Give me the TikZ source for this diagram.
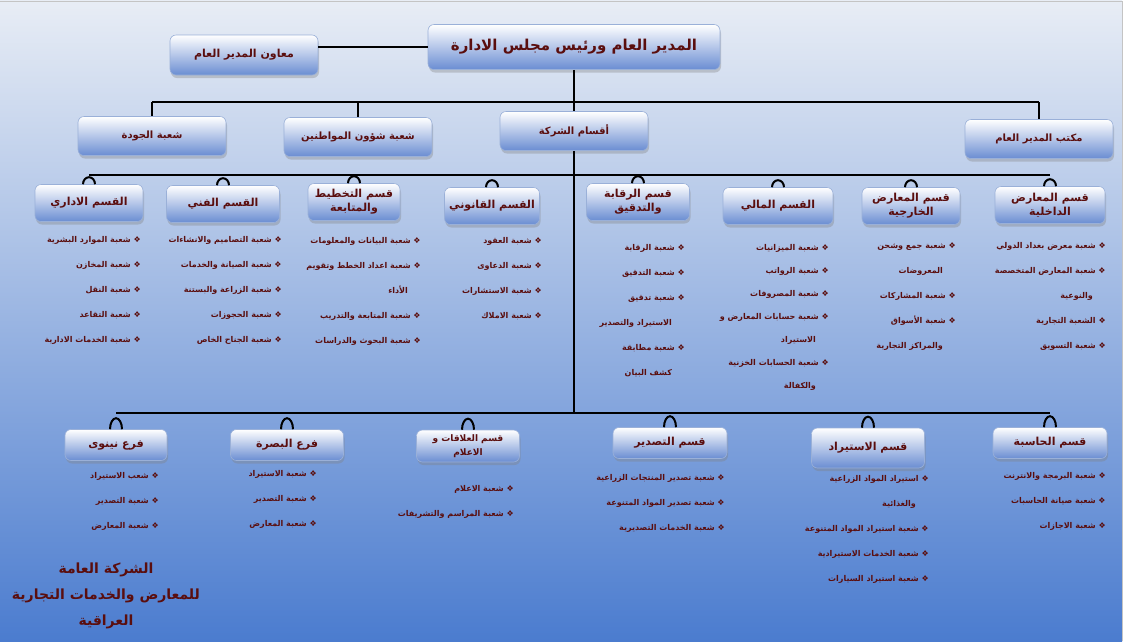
\documentclass[tikz,border=0pt]{standalone}
\usepackage{fontspec}
\usetikzlibrary{shadows}
\TeXXeTstate=1
\newfontfamily\arabicfont[Script=Arabic]{DejaVu Sans}
\definecolor{cink}{HTML}{5A0E0E}
\definecolor{cbox}{HTML}{6A8DD2}
\definecolor{cboxline}{HTML}{9AB0D8}
\definecolor{cbgtop}{HTML}{E8EDF5}
\definecolor{cbgmid}{HTML}{B2C4E5}
\definecolor{cbgbot}{HTML}{4B7CCF}
\definecolor{cframe}{HTML}{C4C4C4}
\newcommand{\artext}[1]{\beginR#1\endR}
\newcommand{\branch}[1]{\beginR❖\ #1\endR}
\newcommand{\wrapline}[1]{\beginR\hspace*{1.6em}#1\endR}
\tikzset{
  every picture/.style={x=1pt, y=-1pt, line width=2.6pt},
  box/.style={draw=cboxline, line width=0.6pt, top color=white, bottom color=cbox, rounded corners=6pt,
    align=center, text=cink, inner sep=2pt, font=\arabicfont\bfseries\fontsize{11}{14}\selectfont,
    drop shadow={opacity=0.35, shadow xshift=1pt, shadow yshift=-3pt}},
  sub/.style={anchor=north east, align=right, inner sep=0pt, text=cink,
    font=\arabicfont\bfseries\fontsize{8}{25}\selectfont},
  hook/.style={line width=2pt},
  title/.style={align=center, text=cink, font=\arabicfont\bfseries\fontsize{14}{26}\selectfont},
}
\begin{document}
\begin{tikzpicture}
  \tikzset{
    headbox/.style={box, minimum width=148pt, minimum height=39pt, font=\arabicfont\bfseries\fontsize{10}{14}\selectfont},
    deptbox/.style={box, minimum width=#1, minimum height=37pt},
    lowbox/.style={box, minimum width=#1, minimum height=31pt},
  }
  \useasboundingbox (0,0) rectangle (1127,641);
  \fill[top color=cbgtop, middle color=cbgmid, bottom color=cbgbot] (0,0) rectangle (1122,641);
  \draw[cframe, line width=1pt] (0,1) -- (1122,1) -- (1122,641);
  % management
  \node[box, minimum width=292pt, minimum height=45pt, font=\arabicfont\bfseries\fontsize{15}{18}\selectfont] (director) at (574,47) {\artext{المدير العام ورئيس مجلس الادارة}};
  \node[box, minimum width=148pt, minimum height=40pt] (deputy) at (244,55) {\artext{معاون المدير العام}};
  \node[headbox] (jawda) at (152,136) {\artext{شعبة الجودة}};
  \node[headbox] (citizens) at (358,137) {\artext{شعبة شؤون المواطنين}};
  \node[headbox] (aqsam) at (574,131) {\artext{أقسام الشركة}};
  \node[headbox] (office) at (1039,139) {\artext{مكتب المدير العام}};
  \coordinate (bus1) at (574,102);
  \coordinate (bus2) at (574,175);
  \coordinate (bus3) at (574,413);
  \draw (director.west) -- (director.west -| deputy.east);
  \draw (director) -- (aqsam);
  \draw (jawda.north |- bus1) -- (office.north |- bus1);
  \draw (jawda.north |- bus1) -- (jawda);
  \draw (citizens.north |- bus1) -- (citizens);
  \draw (office.north |- bus1) -- (office);
  % departments, upper row
  \node[deptbox=108pt] (admin) at (89,203) {\artext{القسم الاداري}};
  \node[deptbox=113pt] (tech) at (223,204) {\artext{القسم الفني}};
  \node[deptbox=92pt] (plan) at (354,202) {\artext{قسم التخطيط}\\\artext{والمتابعة}};
  \node[deptbox=95pt] (legal) at (492,206) {\artext{القسم القانوني}};
  \node[deptbox=103pt] (audit) at (638,202) {\artext{قسم الرقابة}\\\artext{والتدقيق}};
  \node[deptbox=110pt] (fin) at (778,206) {\artext{القسم المالي}};
  \node[deptbox=98pt] (extx) at (911,206) {\artext{قسم المعارض}\\\artext{الخارجية}};
  \node[deptbox=110pt] (intx) at (1050,205) {\artext{قسم المعارض}\\\artext{الداخلية}};
  \draw (aqsam) -- (aqsam |- bus3);
  \draw (admin.north |- bus2) -- (intx.north |- bus2);
  \draw[hook] ([xshift=-6pt]admin.north) arc[start angle=180, end angle=0, x radius=6pt, y radius=7pt]
    ([xshift=-6pt]tech.north) arc[start angle=180, end angle=0, x radius=6pt, y radius=7pt]
    ([xshift=-6pt]plan.north) arc[start angle=180, end angle=0, x radius=6pt, y radius=7pt]
    ([xshift=-6pt]legal.north) arc[start angle=180, end angle=0, x radius=6pt, y radius=7pt]
    ([xshift=-6pt]audit.north) arc[start angle=180, end angle=0, x radius=6pt, y radius=7pt]
    ([xshift=-6pt]fin.north) arc[start angle=180, end angle=0, x radius=6pt, y radius=7pt]
    ([xshift=-6pt]extx.north) arc[start angle=180, end angle=0, x radius=6pt, y radius=7pt]
    ([xshift=-6pt]intx.north) arc[start angle=180, end angle=0, x radius=6pt, y radius=7pt];
  \node[sub] (adminlist) at (142,235) {\branch{شعبة الموارد البشرية}\\\branch{شعبة المخازن}\\\branch{شعبة النقل}\\\branch{شعبة التقاعد}\\\branch{شعبة الخدمات الادارية}};
  \node[sub] (techlist) at (283,235) {\branch{شعبة التصاميم والانشاءات}\\\branch{شعبة الصيانة والخدمات}\\\branch{شعبة الزراعة والبستنة}\\\branch{شعبة الحجوزات}\\\branch{شعبة الجناح الخاص}};
  \node[sub] (planlist) at (422,236) {\branch{شعبة البيانات والمعلومات}\\\branch{شعبة اعداد الخطط وتقويم}\\\wrapline{الأداء}\\\branch{شعبة المتابعة والتدريب}\\\branch{شعبة البحوث والدراسات}};
  \node[sub] (legallist) at (543,236) {\branch{شعبة العقود}\\\branch{شعبة الدعاوى}\\\branch{شعبة الاستشارات}\\\branch{شعبة الاملاك}};
  \node[sub] (auditlist) at (686,243) {\branch{شعبة الرقابة}\\\branch{شعبة التدقيق}\\\branch{شعبة تدقيق}\\\wrapline{الاستيراد والتصدير}\\\branch{شعبة مطابقة}\\\wrapline{كشف البيان}};
  \node[sub, font=\arabicfont\bfseries\fontsize{8}{23}\selectfont] (finlist) at (830,243) {\branch{شعبة الميزانيات}\\\branch{شعبة الرواتب}\\\branch{شعبة المصروفات}\\\branch{شعبة حسابات المعارض و}\\\wrapline{الاستيراد}\\\branch{شعبة الحسابات الخزنية}\\\wrapline{والكفالة}};
  \node[sub] (extxlist) at (957,241) {\branch{شعبة جمع وشحن}\\\wrapline{المعروضات}\\\branch{شعبة المشاركات}\\\branch{شعبة الأسواق}\\\wrapline{والمراكز التجارية}};
  \node[sub] (intxlist) at (1107,241) {\branch{شعبة معرض بغداد الدولي}\\\branch{شعبة المعارض المتخصصة}\\\wrapline{والنوعية}\\\branch{الشعبة التجارية}\\\branch{شعبة التسويق}};
  % branches and departments, lower row
  \node[lowbox=102pt] (ninawa) at (116,445) {\artext{فرع نينوى}};
  \node[lowbox=113pt] (basra) at (287,445) {\artext{فرع البصرة}};
  \node[lowbox=103pt, minimum height=32pt, font=\arabicfont\bfseries\fontsize{9}{14}\selectfont] (media) at (468,446) {\artext{قسم العلاقات و}\\\artext{الاعلام}};
  \node[lowbox=114pt] (export) at (670,443) {\artext{قسم التصدير}};
  \node[lowbox=113pt, minimum height=40pt] (import) at (868,448) {\artext{قسم الاستيراد}};
  \node[lowbox=114pt] (comp) at (1050,443) {\artext{قسم الحاسبة}};
  \draw (ninawa.north |- bus3) -- (comp.north |- bus3);
  \draw[hook] ([xshift=-6pt]ninawa.north) arc[start angle=180, end angle=0, x radius=6pt, y radius=11pt]
    ([xshift=-6pt]basra.north) arc[start angle=180, end angle=0, x radius=6pt, y radius=11pt]
    ([xshift=-6pt]media.north) arc[start angle=180, end angle=0, x radius=6pt, y radius=11pt]
    ([xshift=-6pt]export.north) arc[start angle=180, end angle=0, x radius=6pt, y radius=11pt]
    ([xshift=-6pt]import.north) arc[start angle=180, end angle=0, x radius=6pt, y radius=11pt]
    ([xshift=-6pt]comp.north) arc[start angle=180, end angle=0, x radius=6pt, y radius=11pt];
  \node[sub] (ninawalist) at (160,471) {\branch{شعب الاستيراد}\\\branch{شعبة التصدير}\\\branch{شعبة المعارض}};
  \node[sub] (basralist) at (318,469) {\branch{شعبة الاستيراد}\\\branch{شعبة التصدير}\\\branch{شعبة المعارض}};
  \node[sub] (medialist) at (515,484) {\branch{شعبة الاعلام}\\\branch{شعبة المراسم والتشريفات}};
  \node[sub] (exportlist) at (726,473) {\branch{شعبة تصدير المنتجات الزراعية}\\\branch{شعبة تصدير المواد المتنوعة}\\\branch{شعبة الخدمات التصديرية}};
  \node[sub] (importlist) at (930,474) {\branch{استيراد المواد الزراعية}\\\wrapline{والغذائية}\\\branch{شعبة استيراد المواد المتنوعة}\\\branch{شعبة الخدمات الاستيرادية}\\\branch{شعبة استيراد السيارات}};
  \node[sub] (complist) at (1107,471) {\branch{شعبة البرمجة والانترنت}\\\branch{شعبة صيانة الحاسبات}\\\branch{شعبة الاجازات}};
  \node[title] (company) at (106,596) {\artext{الشركة العامة}\\\artext{للمعارض والخدمات التجارية}\\\artext{العراقية}};
\end{tikzpicture}
\end{document}
